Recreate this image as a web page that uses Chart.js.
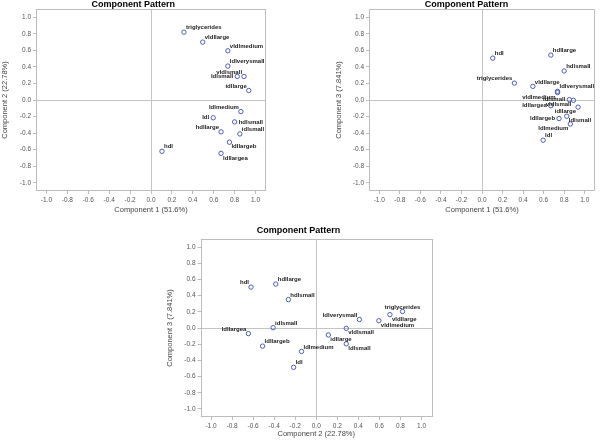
<!DOCTYPE html>
<html>
<head>
<meta charset="utf-8">
<script src="https://cdn.jsdelivr.net/npm/chart.js@4/dist/chart.umd.min.js"></script>
<style>
  body { margin: 0; background: #fff; }
  canvas { position: absolute; }
</style>
</head>
<body>
<canvas id="c1" width="300" height="220" style="left:0;top:0"></canvas>
<canvas id="c2" width="300" height="220" style="left:300px;top:0"></canvas>
<canvas id="c3" width="300" height="221" style="left:150px;top:220px"></canvas>
<script>
const variables = ["triglycerides", "vldllarge", "vldlmedium", "ldlverysmall", "vldlsmall", "ldlsmall",
  "idllarge", "ldlmedium", "ldl", "hdlsmall", "hdllarge", "idlsmall", "ldllargeb", "hdl", "ldllargea"];
const comp1 = [0.315, 0.495, 0.735, 0.735, 0.89, 0.825, 0.935, 0.86, 0.595, 0.80, 0.67, 0.85, 0.75, 0.105, 0.67];
const comp2 = [0.82, 0.70, 0.595, 0.41, 0.285, 0.285, 0.115, -0.14, -0.215, -0.265, -0.385, -0.41, -0.51, -0.62, -0.645];
const comp3 = [0.204, 0.165, 0.09, 0.105, -0.004, -0.196, -0.086, -0.29, -0.486, 0.351, 0.543, 0.004, -0.224, 0.506, -0.069];
const tickValues = [-1.0, -0.8, -0.6, -0.4, -0.2, 0.0, 0.2, 0.4, 0.6, 0.8, 1.0];
const axisTitles = ["Component 1 (51.6%)", "Component 2 (22.78%)", "Component 3 (7.841%)"];

// where each point's label sits, per chart (same order as variables)
const pos1 = ["UR", "UR", "UR", "UR", "UL", "L", "UL", "UL", "L", "R", "UL", "UR", "LR", "UR", "LR"];
const pos2 = ["UL", "UR", "LL", "UR", "LL", "LR", "LL", "LL", "UR", "UR", "UR", "L", "L", "UR", "L"];
const pos3 = ["T", "LR", "LR", "UL", "LR", "LR", "LR", "UR", "UR", "UR", "UR", "UR", "UR", "UL", "UL"];

const FONT = "'Liberation Sans', Arial, sans-serif";

const pointLabels = {
  id: "pointLabels",
  beforeDatasetsDraw(chart) {
    const { ctx, chartArea: a } = chart;
    ctx.save();
    ctx.strokeStyle = "#bdbdbd";
    ctx.lineWidth = 1;
    ctx.strokeRect(Math.round(a.left) + 0.5, Math.round(a.top) + 0.5,
      Math.round(a.right - a.left) - 1, Math.round(a.bottom - a.top) - 1);
    ctx.restore();
  },
  afterDatasetsDraw(chart, args, opts) {
    const { ctx } = chart;
    const meta = chart.getDatasetMeta(0);
    ctx.save();
    ctx.font = "bold 6px " + FONT;
    ctx.fillStyle = "#222";
    ctx.textBaseline = "middle";
    meta.data.forEach((pt, i) => {
      const p = opts.pos[i];
      let x = pt.x, y = pt.y;
      ctx.textAlign = "left";
      if (p === "UR") { x += 2; y -= 4.5; }
      else if (p === "UL") { x -= 2; y -= 4.5; ctx.textAlign = "right"; }
      else if (p === "LR") { x += 2; y += 4.5; }
      else if (p === "LL") { x -= 2; y += 4.5; ctx.textAlign = "right"; }
      else if (p === "L") { x -= 4; ctx.textAlign = "right"; }
      else if (p === "R") { x += 4; }
      else if (p === "T") { y -= 4.5; ctx.textAlign = "center"; }
      ctx.fillText(variables[i], x, y);
    });
    ctx.restore();
  }
};

function axis(title, isX, size, titlePadBottom) {
  return {
    type: "linear",
    position: isX ? "bottom" : "left",
    min: -1.1,
    max: 1.1,
    afterBuildTicks: s => { s.ticks = tickValues.map(v => ({ value: v })); },
    afterFit: s => { if (isX) s.height = size; else s.width = size; },
    border: { display: false },
    grid: {
      color: c => (c.tick && c.tick.value === 0 ? "#c4c4c4" : "rgba(0,0,0,0)"),
      tickColor: "#bdbdbd",
      tickLength: 3,
      lineWidth: 1
    },
    ticks: {
      font: { family: FONT, size: 6.5 },
      color: "#555",
      padding: 2,
      autoSkip: false,
      maxRotation: 0,
      callback: v => v.toFixed(1)
    },
    title: {
      display: true,
      text: title,
      color: "#444",
      font: { family: FONT, size: 7.5, lineHeight: 1.2 },
      padding: isX ? { top: 0, bottom: titlePadBottom } : 0
    }
  };
}

function makeChart(id, xs, ys, xTitle, yTitle, pos, lay) {
  const points = xs.map((x, i) => ({ x: x, y: ys[i] }));
  return new Chart(document.getElementById(id), {
    type: "scatter",
    data: {
      datasets: [{
        data: points,
        pointRadius: 2.2,
        pointBorderWidth: 1,
        pointBorderColor: "#4c5fae",
        pointBackgroundColor: "rgba(0,0,0,0)"
      }]
    },
    options: {
      responsive: false,
      animation: false,
      layout: { padding: lay.padding },
      scales: {
        x: axis(xTitle, true, lay.xHeight, lay.xTitlePad),
        y: axis(yTitle, false, lay.yWidth)
      },
      plugins: {
        legend: { display: false },
        tooltip: { enabled: false },
        title: {
          display: true,
          text: "Component Pattern",
          color: "#000",
          font: { family: FONT, size: 9, weight: "bold", lineHeight: 1 },
          padding: { top: 0, bottom: lay.titlePad }
        },
        pointLabels: { pos: pos }
      }
    },
    plugins: [pointLabels]
  });
}

makeChart("c1", comp1, comp2, axisTitles[0], axisTitles[1], pos1,
  { padding: { left: 0.5, right: 34, top: 0, bottom: 0 }, yWidth: 35.5, xHeight: 29, xTitlePad: 6, titlePad: 0 });
makeChart("c2", comp1, comp3, axisTitles[0], axisTitles[2], pos2,
  { padding: { left: 34, right: 1, top: 0, bottom: 0 }, yWidth: 35, xHeight: 29, xTitlePad: 6, titlePad: 0 });
makeChart("c3", comp2, comp3, axisTitles[1], axisTitles[2], pos3,
  { padding: { left: 15, right: 18, top: 6, bottom: 0 }, yWidth: 35.5, xHeight: 24, xTitlePad: 3, titlePad: 4 });
</script>
</body>
</html>
